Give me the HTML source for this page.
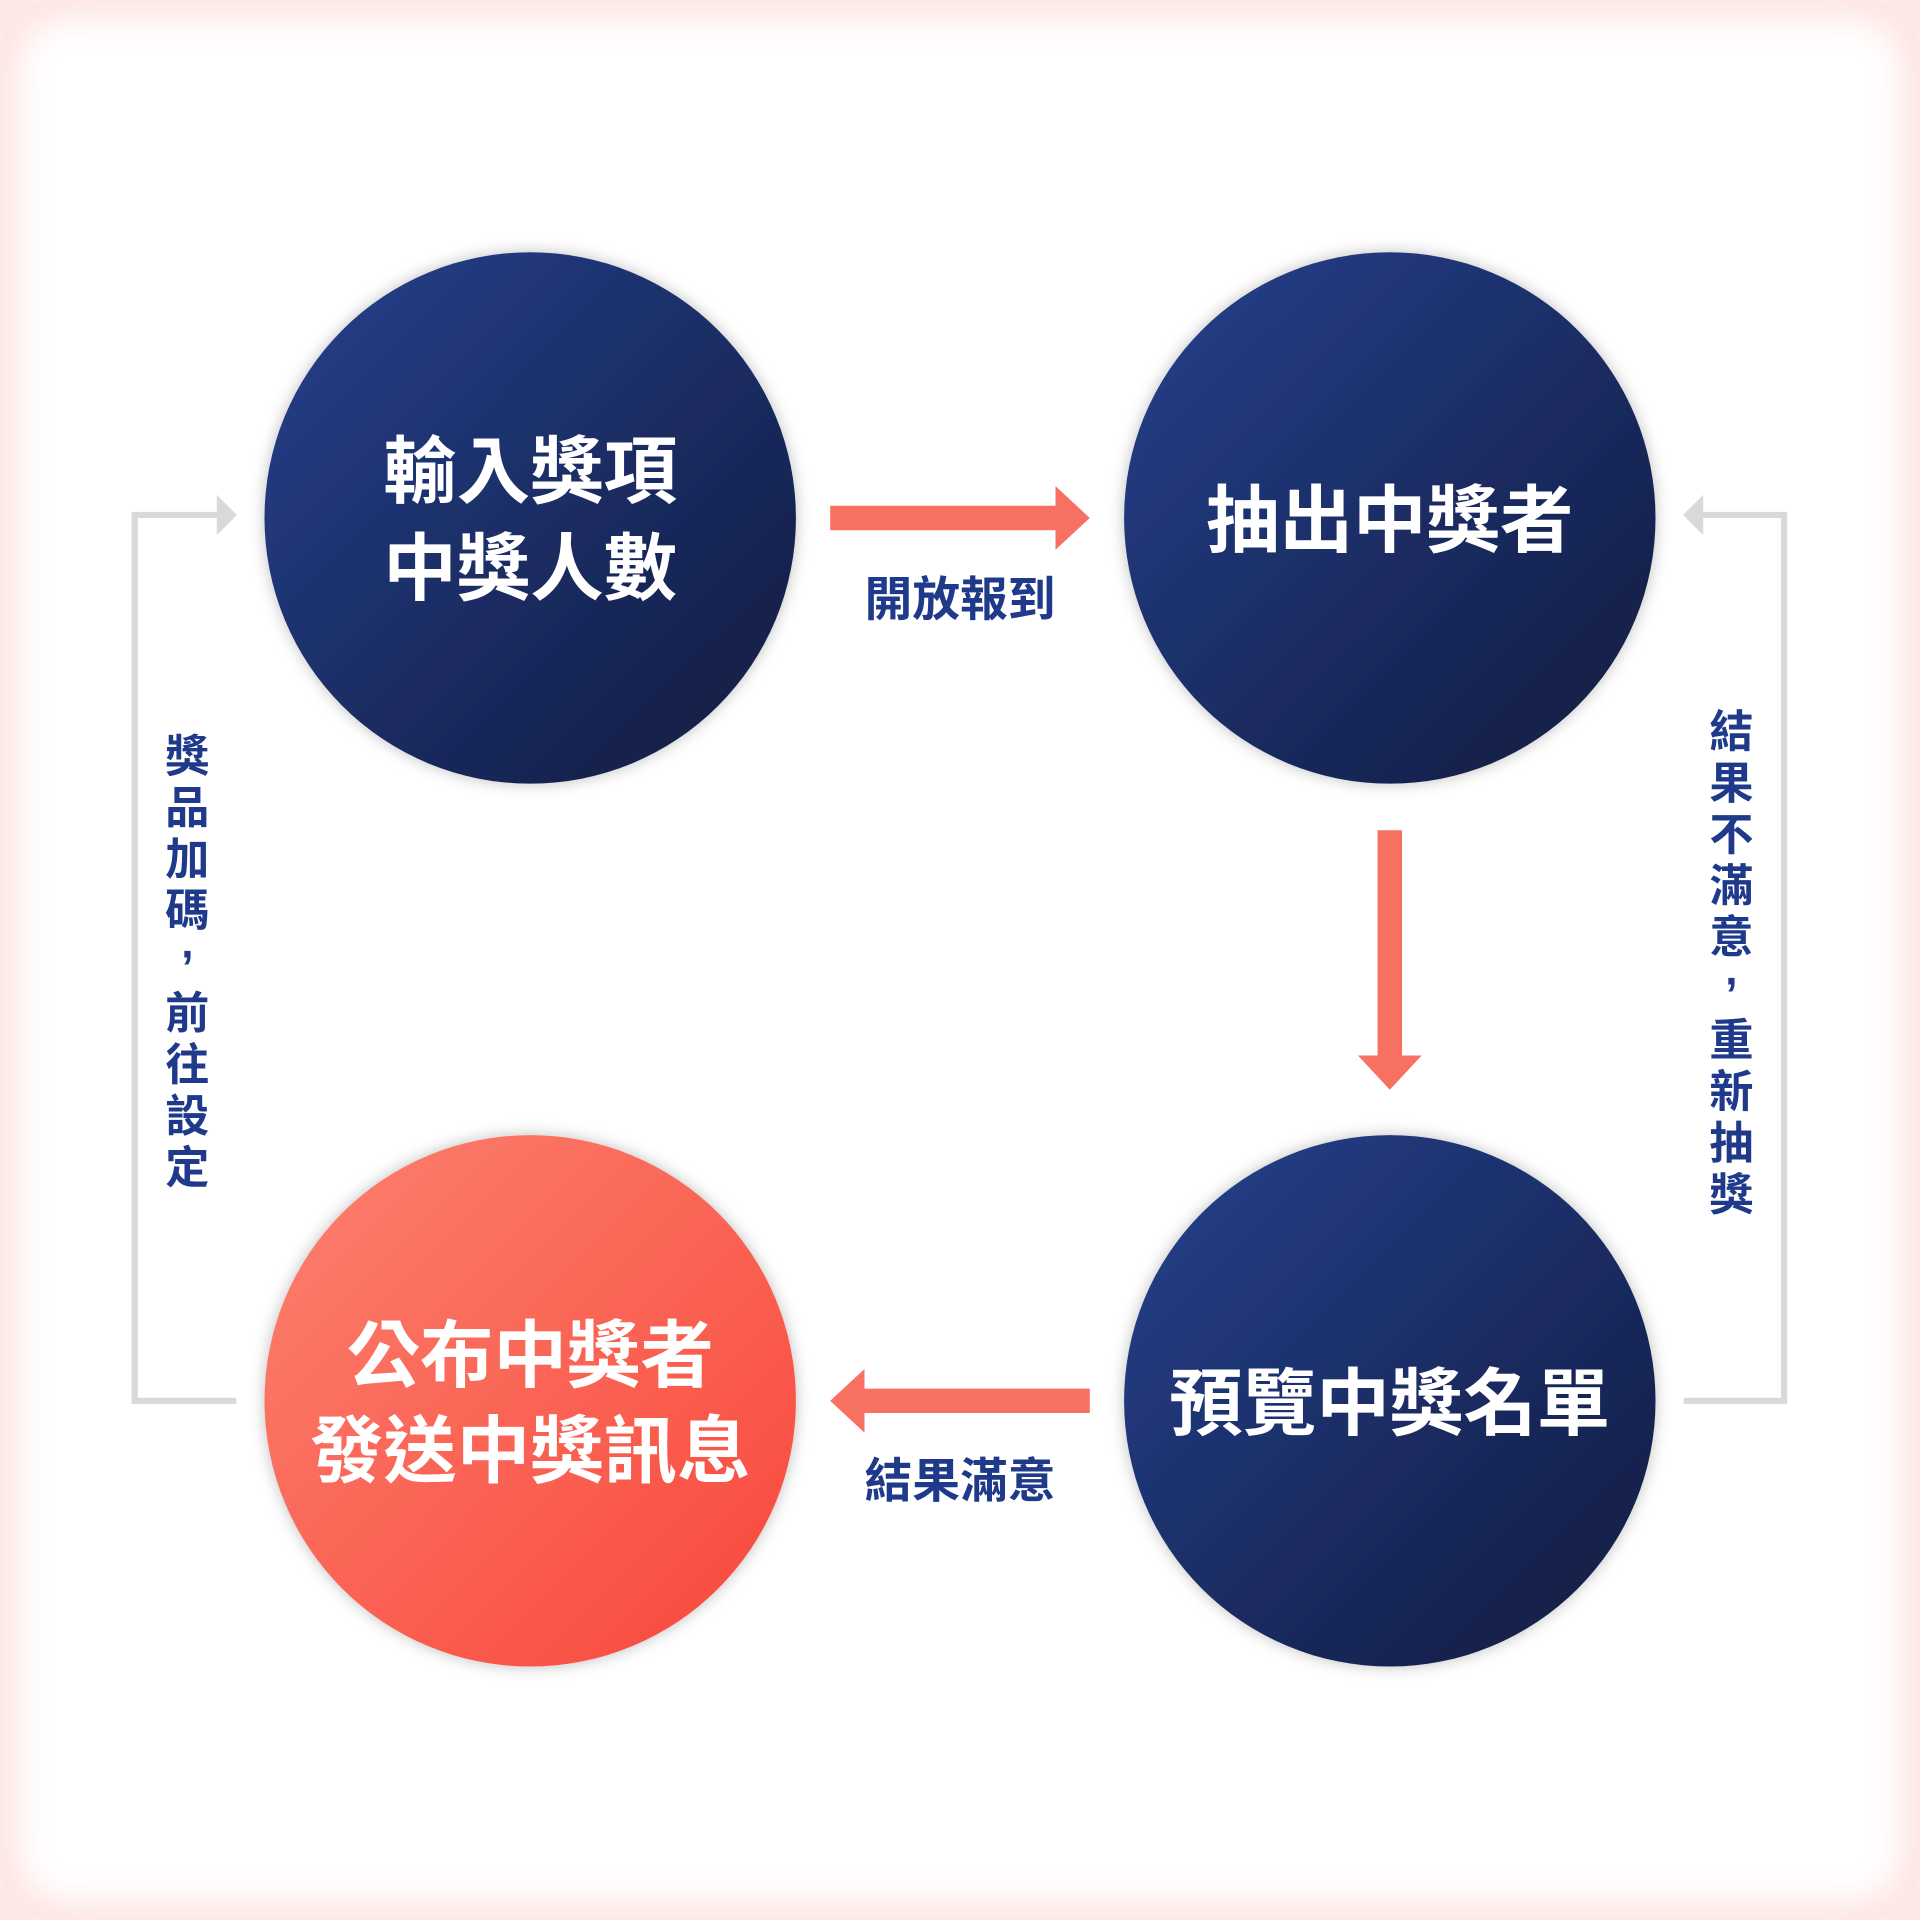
<!DOCTYPE html>
<html><head><meta charset="utf-8"><style>
html,body{margin:0;padding:0;background:#fff}
.wrap{width:1920px;height:1920px;position:relative;overflow:hidden;background:#fde8e6}
svg{position:absolute;left:0;top:0}
text{font-family:"Liberation Sans","Noto Sans CJK TC",sans-serif;font-weight:bold}
</style></head><body><div class="wrap">
<svg width="1920" height="1920" viewBox="0 0 1568 1568">
<defs>
<linearGradient id="nv" x1="0" y1="0" x2="1" y2="1"><stop offset="0" stop-color="#26418e"/><stop offset="1" stop-color="#111a3d"/></linearGradient>
<linearGradient id="rd" x1="0" y1="0" x2="1" y2="1"><stop offset="0" stop-color="#fc8270"/><stop offset="1" stop-color="#f8463a"/></linearGradient>
<filter id="sh" x="-20%" y="-20%" width="140%" height="140%"><feDropShadow dx="0" dy="0" stdDeviation="6" flood-color="#000" flood-opacity="0.25"/></filter>
<filter id="bl"><feGaussianBlur stdDeviation="14"/></filter>
</defs>
<rect x="0" y="0" width="1568" height="1568" rx="45" fill="#fde4e1"/>
<rect x="14" y="14" width="1540" height="1540" rx="40" fill="#fff" filter="url(#bl)"/>
<g fill="none" stroke="#d9d9d9" stroke-width="5">
<polyline points="193,1144 110,1144 110,420.5 180,420.5"/>
<polyline points="1375,1144 1457,1144 1457,420.5 1388,420.5"/>
</g>
<polygon points="177,404 193.5,420.5 177,437" fill="#d9d9d9"/>
<polygon points="1391,404 1374.5,420.5 1391,437" fill="#d9d9d9"/>
<g filter="url(#sh)">
<circle cx="433" cy="423" r="217" fill="url(#nv)"/>
<circle cx="1135" cy="423" r="217" fill="url(#nv)"/>
<circle cx="433" cy="1144" r="217" fill="url(#rd)"/>
<circle cx="1135" cy="1144" r="217" fill="url(#nv)"/>
</g>
<g fill="#f87062">
<polygon points="678,413 862,413 862,397 890,423 862,449 862,433 678,433"/>
<polygon points="1125,678 1145,678 1145,862 1161,862 1135,890 1109,862 1125,862"/>
<polygon points="890,1134 706,1134 706,1118 678,1144 706,1170 706,1154 890,1154"/>
</g>
<g fill="#fff" font-size="60" text-anchor="middle">
<text x="433" y="406">輸入獎項</text>
<text x="433" y="485">中獎人數</text>
<text x="1135" y="446">抽出中獎者</text>
<text x="433" y="1128">公布中獎者</text>
<text x="433" y="1206">發送中獎訊息</text>
<text x="1135" y="1167">預覽中獎名單</text>
</g>
<g fill="#1f3a8a" font-size="39" text-anchor="middle">
<text x="784" y="503">開放報到</text>
<text x="784" y="1223">結果滿意</text>
</g>
<g fill="#1f3a8a" font-size="36" text-anchor="middle">
<text x="153" y="630">獎</text><text x="153" y="672">品</text><text x="153" y="714">加</text><text x="153" y="756">碼</text><text x="153" y="782">,</text><text x="153" y="840">前</text><text x="153" y="882">往</text><text x="153" y="924">設</text><text x="153" y="966">定</text>
<text x="1414" y="610">結</text><text x="1414" y="652">果</text><text x="1414" y="694">不</text><text x="1414" y="736">滿</text><text x="1414" y="778">意</text><text x="1414" y="804">,</text><text x="1414" y="862">重</text><text x="1414" y="904">新</text><text x="1414" y="946">抽</text><text x="1414" y="988">獎</text>
</g>
</svg></div></body></html>
